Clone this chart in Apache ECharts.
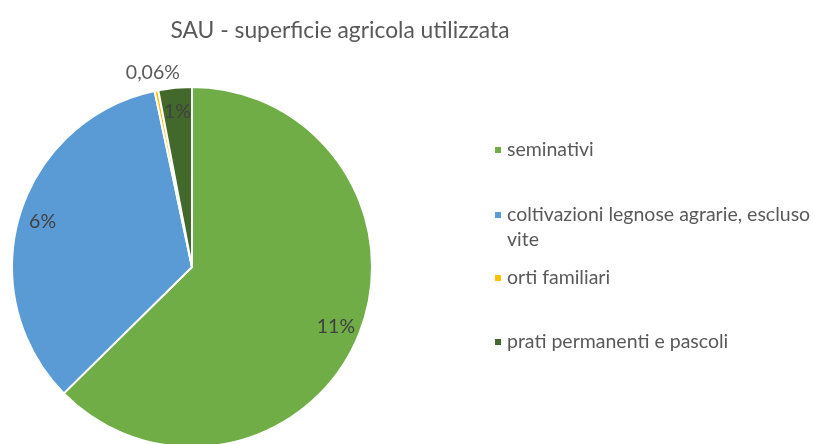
<!DOCTYPE html>
<html>
<head>
<meta charset="utf-8">
<title>SAU - superficie agricola utilizzata</title>
<script src="https://cdn.jsdelivr.net/npm/echarts@6/dist/echarts.min.js"></script>
<style>
  html, body { margin: 0; padding: 0; background: #fff; }
  #chart { width: 814px; height: 444px; }
</style>
</head>
<body>
<div id="chart"></div>
<script>
// dati (valori in %)
var categorie = ['seminativi', 'coltivazioni legnose agrarie, escluso vite', 'orti familiari', 'prati permanenti e pascoli'];
var valori = [11.27, 6.13, 0.06, 0.54];
var colori = ['#70AD47', '#5B9BD5', '#FFC000', '#43682B'];

var font = 'Lato';
var dati = categorie.map(function (c, i) {
  return { name: c, value: valori[i], itemStyle: { color: colori[i] } };
});

function etichetta(p) {
  if (p.value < 0.1) return p.value.toFixed(2).replace('.', ',') + '%';
  return Math.round(p.value) + '%';
}

var centro = [192, 267];
var myChart = echarts.init(document.getElementById('chart'));

// una legenda per voce, per rispettare le posizioni del riferimento
var centriY = [150, 215, 278, 342];
var legende = categorie.map(function (c, i) {
  var l = {
    data: [c],
    orient: 'vertical',
    left: 493,
    top: centriY[i] - 11,
    padding: 0,
    icon: 'rect',
    itemWidth: 8,
    itemHeight: 8,
    textStyle: { fontFamily: font, fontSize: 19.5, lineHeight: 22, color: '#595959' }
  };
  if (i === 1) {
    // riga vuota in testa: così il quadratino resta sulla prima riga
    l.formatter = function () { return '\ncoltivazioni legnose agrarie, escluso\nvite'; };
    l.textStyle.lineHeight = 25;
    l.top = centriY[i] - 37.5;
  }
  return l;
});

myChart.setOption({
  animation: false,
  title: {
    text: 'SAU - superficie agricola utilizzata',
    left: 335,
    textAlign: 'center',
    top: 14,
    textStyle: { fontFamily: font, fontSize: 22.8, fontWeight: 'normal', color: '#595959' }
  },
  legend: legende,
  series: [
    {
      type: 'pie',
      center: centro,
      radius: [0, 180],
      startAngle: 90,
      clockwise: true,
      data: dati,
      itemStyle: { borderColor: '#fff', borderWidth: 2 },
      label: { show: false },
      labelLine: { show: false },
      emphasis: { disabled: true }
    },
    {
      // etichette interne
      type: 'pie',
      center: centro,
      radius: [135, 171],
      startAngle: 90,
      silent: true,
      data: dati.map(function (d) {
        return { name: d.name, value: d.value, label: { show: d.value >= 0.1 } };
      }),
      itemStyle: { color: 'transparent' },
      label: { position: 'inside', formatter: etichetta, fontFamily: font, fontSize: 19.5, color: '#404040' },
      labelLine: { show: false },
      legendHoverLink: false
    },
    {
      // etichetta esterna per la fetta piccola
      type: 'pie',
      center: centro,
      radius: [186, 204],
      startAngle: 90,
      silent: true,
      data: dati.map(function (d) {
        return { name: d.name, value: d.value, label: { show: d.value < 0.1 } };
      }),
      itemStyle: { color: 'transparent' },
      label: { position: 'inside', formatter: etichetta, fontFamily: font, fontSize: 19.5, color: '#595959' },
      labelLine: { show: false },
      legendHoverLink: false
    }
  ]
});
</script>
</body>
</html>
